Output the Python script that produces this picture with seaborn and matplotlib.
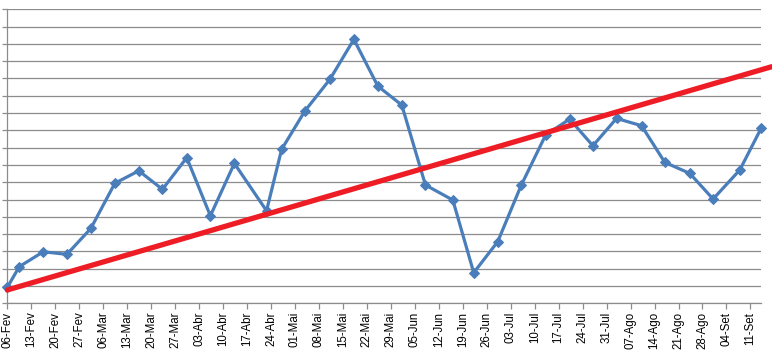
import matplotlib
matplotlib.use("Agg")
import matplotlib.pyplot as plt
import seaborn as sns
import pandas as pd
import numpy as np

# dias desde 06-Fev e valores (unidades = linhas de grade)
dias = [0, 3.5, 10.5, 17.4, 24.4, 31.4, 38.4, 45.3, 52.4, 59.3, 66.3,
        75.7, 80.1, 86.9, 94.2, 101.2, 108.2, 115.2, 122.1, 130.1, 136.2,
        143.2, 150.1, 157.2, 164.2, 171.0, 177.9, 185.2, 192.0, 199.3,
        206.1, 213.9, 220.2]
valores = [0.92, 2.12, 2.98, 2.83, 4.33, 6.94, 7.66, 6.59, 8.42, 5.06, 8.09,
           5.35, 8.90, 11.12, 12.95, 15.26, 12.56, 11.46, 6.84, 5.97, 1.77,
           3.56, 6.84, 9.73, 10.65, 9.11, 10.69, 10.27, 8.15, 7.51, 6.03,
           7.71, 10.15]

# linha de tendencia (desenhada a mao no original)
tend_dias = [0, 223.2]
tend_valores = [0.77, 13.68]

semanas = ["06-Fev", "13-Fev", "20-Fev", "27-Fev", "06-Mar", "13-Mar",
           "20-Mar", "27-Mar", "03-Abr", "10-Abr", "17-Abr", "24-Abr",
           "01-Mai", "08-Mai", "15-Mai", "22-Mai", "29-Mai", "05-Jun",
           "12-Jun", "19-Jun", "26-Jun", "03-Jul", "10-Jul", "17-Jul",
           "24-Jul", "31-Jul", "07-Ago", "14-Ago", "21-Ago", "28-Ago",
           "04-Set", "11-Set"]

df = pd.DataFrame({"dia": dias, "valor": valores})
tend = pd.DataFrame({"dia": tend_dias, "valor": tend_valores})

sns.set_style("white")
plt.rcParams["font.family"] = ["Liberation Sans", "DejaVu Sans"]

fig = plt.figure(figsize=(7.72, 3.58), dpi=100)
ax = fig.add_axes([7.3 / 772, 54.7 / 358, 753.4 / 772, 294 / 358])

sns.lineplot(data=df, x="dia", y="valor", ax=ax, color="#4A7EBB",
             linewidth=2.3, marker="D", markersize=5.5,
             markeredgecolor="#4A7EBB", clip_on=False, zorder=3)
sns.lineplot(data=tend, x="dia", y="valor", ax=ax, color="#EE1C25",
             linewidth=3.8, clip_on=False, zorder=4)

ax.set_xlim(0, 220)
ax.set_ylim(0, 17)
ax.set_yticks(np.arange(0, 18, 1))
ax.set_yticklabels([])
ax.set_xticks(np.arange(len(semanas)) * 7)
ax.set_xticklabels(semanas, rotation=90, fontsize=8.3)
ax.grid(axis="y", color="#8C8C8C", linewidth=0.9)
ax.grid(axis="x", visible=False)
ax.set_axisbelow(True)

for lado in ["top", "right"]:
    ax.spines[lado].set_visible(False)
for lado in ["left", "bottom"]:
    ax.spines[lado].set_color("#8C8C8C")
    ax.spines[lado].set_linewidth(0.9)

ax.tick_params(axis="y", left=True, length=3.5, color="#8C8C8C", width=0.9)
ax.tick_params(axis="x", bottom=True, length=4, color="#8C8C8C", width=0.9,
               pad=2, labelcolor="#000000")
ax.set_xlabel("")
ax.set_ylabel("")
if ax.get_legend() is not None:
    ax.get_legend().remove()

fig.savefig("out.png", dpi=100)
